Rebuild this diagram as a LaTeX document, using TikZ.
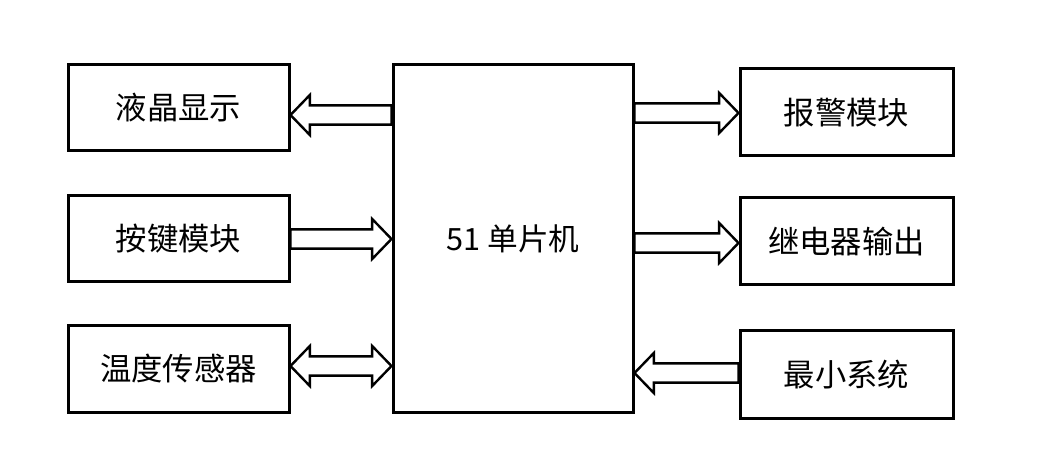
\documentclass[tikz,border=0pt]{standalone}
\usepackage{fontspec}
\usepackage{xcolor}
\usetikzlibrary{calc, positioning}
\setmainfont{Carlito}
\newfontfamily\cjk{Noto Sans CJK SC}
\definecolor{InkBlack}{HTML}{000000}
\newcommand{\shafthalf}{7.2pt}
\newcommand{\headhalf}{15pt}
\newcommand{\headlen}{14.5pt}
% hollow block arrow: tail, tip, level
\newcommand{\fatarrow}[3]{
    \draw[fatline] let \p1=(#1), \p2=(#2), \p3=(#3), \n1={sign(\x2-\x1)} in
    (\x1,\y3+\shafthalf) -- (\x2-\n1*\headlen,\y3+\shafthalf) -- (\x2-\n1*\headlen,\y3+\headhalf)
    -- (\x2,\y3) -- (\x2-\n1*\headlen,\y3-\headhalf) -- (\x2-\n1*\headlen,\y3-\shafthalf)
    -- (\x1,\y3-\shafthalf) -- cycle;
}
% hollow block arrow with two heads
\newcommand{\fatdarrow}[3]{
    \draw[fatline] let \p1=(#1), \p2=(#2), \p3=(#3), \n1={sign(\x2-\x1)} in
    (\x1,\y3) -- (\x1+\n1*\headlen,\y3+\headhalf) -- (\x1+\n1*\headlen,\y3+\shafthalf)
    -- (\x2-\n1*\headlen,\y3+\shafthalf) -- (\x2-\n1*\headlen,\y3+\headhalf)
    -- (\x2,\y3) -- (\x2-\n1*\headlen,\y3-\headhalf) -- (\x2-\n1*\headlen,\y3-\shafthalf)
    -- (\x1+\n1*\headlen,\y3-\shafthalf) -- (\x1+\n1*\headlen,\y3-\headhalf) -- cycle;
}

\begin{document}
\begin{tikzpicture}[x=0.75pt, y=0.75pt,
    module/.style={draw=InkBlack, line width=2.25pt, inner sep=0pt, font=\cjk\fontsize{23.5}{27}\selectfont},
    sidebox/.style={module, minimum width=165.75pt, minimum height=64.5pt},
    rightbox/.style={module, minimum width=159.75pt, minimum height=65.25pt},
    fatline/.style={draw=InkBlack, line width=1.8pt, line join=miter}]
        \useasboundingbox (0,0) rectangle (1046,450);

        % Left modules
        \node[sidebox] (lcd) at (178.5,342) {液晶显示};
        \node[sidebox] (keys) at (178.5,211) {按键模块};
        \node[sidebox] (temp) at (178.5,81) {温度传感器};

        % Controller
        \node[module, minimum width=180pt, minimum height=260.25pt] (mcu) at (513,211.5)
            {\fontsize{23}{27}\selectfont 51 {\cjk 单片机}};

        % Right modules
        \node[rightbox] (alarm) at (846.5,337.5) {报警模块};
        \node[rightbox] (relay) at (846.5,208.5) {继电器输出};
        \node[rightbox] (minsys) at (846.5,75.5) {最小系统};

        % Arrow levels
        \coordinate (lvlA) at (0,335);
        \coordinate (lvlB) at (0,211);
        \coordinate (lvlC) at (0,84);
        \coordinate (lvlD) at (0,337);
        \coordinate (lvlE) at (0,207);
        \coordinate (lvlF) at (0,77);

        \fatarrow{mcu.west}{lcd.east}{lvlA}
        \fatarrow{keys.east}{mcu.west}{lvlB}
        \fatdarrow{temp.east}{mcu.west}{lvlC}
        \fatarrow{mcu.east}{alarm.west}{lvlD}
        \fatarrow{mcu.east}{relay.west}{lvlE}
        \fatarrow{minsys.west}{mcu.east}{lvlF}
    \end{tikzpicture}
\end{document}
